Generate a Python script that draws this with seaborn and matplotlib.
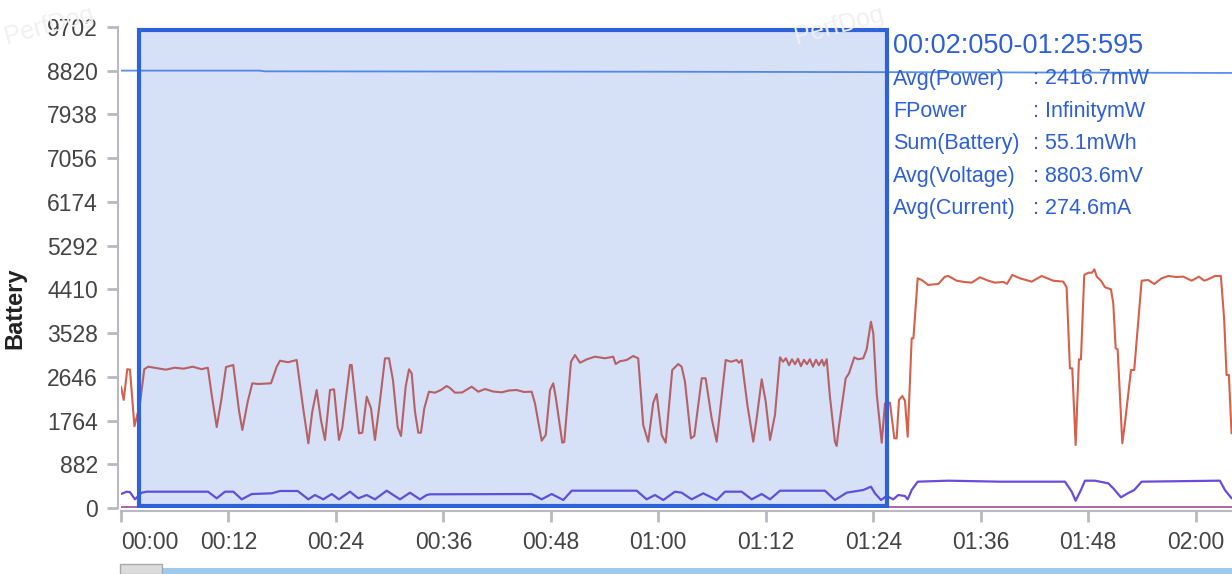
import numpy as np
import pandas as pd
import seaborn as sns
import matplotlib.pyplot as plt
from matplotlib.patches import Rectangle

# power (mW)
power_t = [0.0, 0.3, 0.7, 1.0, 1.5, 2.1, 2.6, 3.05, 4.0, 5.0, 6.0, 7.0, 8.0, 9.0, 9.7,
           10.13, 10.69, 11.17, 11.73, 12.54, 13.18, 13.55, 14.15, 14.66, 15.33, 16.75,
           17.39, 17.76, 18.65, 19.62, 20.36, 20.92, 21.36, 21.85, 22.33, 22.78, 23.34,
           23.79, 24.34, 24.71, 25.57, 25.76, 26.58, 26.95, 27.44, 27.92, 28.36, 28.84,
           29.48, 29.93, 30.37, 30.9, 31.27, 31.79, 32.16, 32.46, 32.83, 33.2, 33.5,
           33.87, 34.39, 35.06, 35.73, 36.37, 36.74, 37.3, 38.08, 39.16, 39.9, 40.65,
           41.54, 42.51, 43.33, 44.19, 45.0, 45.86, 46.23, 46.98, 47.43, 47.91, 48.27,
           48.54, 49.28, 49.5, 50.25, 50.7, 51.26, 52.04, 52.93, 54.05, 54.97, 55.24,
           55.72, 56.47, 57.2, 57.76, 58.32, 58.88, 59.44, 59.82, 60.38, 60.83, 61.56,
           62.23, 62.61, 62.98, 63.65, 64.02, 64.85, 65.29, 65.96, 66.52, 67.0, 67.53,
           68.12, 68.75, 69.01, 69.31, 69.98, 70.61, 70.99, 71.55, 72.0, 72.48, 73.03,
           73.59, 73.93, 74.26, 74.6, 74.93, 75.27, 75.6, 75.93, 76.27, 76.6, 76.93,
           77.27, 77.61, 77.94, 78.28, 78.5, 78.81, 79.17, 79.73, 79.92, 80.18, 80.93,
           81.3, 81.89, 82.3, 82.89, 83.27, 83.75, 84.01, 84.39, 84.95, 85.32, 85.87,
           86.36, 86.62, 86.88, 87.25, 87.55, 87.85, 88.3, 88.49, 88.97, 89.41, 90.15,
           90.67, 91.27, 92.01, 92.38, 93.33, 94.14, 95.0, 95.92, 96.85, 97.6, 98.53,
           98.94, 99.53, 100.39, 101.7, 102.81, 104.1, 105.22, 105.6, 105.97, 106.23,
           106.61, 106.98, 107.2, 107.57, 108.02, 108.43, 108.7, 108.97, 109.44, 109.89,
           110.55, 110.81, 111.08, 111.3, 111.82, 112.11, 112.79, 113.15, 113.98, 114.71,
           115.39, 116.21, 116.95, 117.81, 118.63, 119.56, 120.37, 120.96, 121.41, 122.16,
           122.83, 123.2, 123.46, 123.72, 124.02]
power_v = [2450, 2180, 2800, 2790, 1650, 2080, 2800, 2850, 2820, 2790, 2830, 2810, 2850, 2800, 2830,
           2279, 1634, 2144, 2844, 2884, 1962, 1573, 2144, 2515, 2501, 2515,
           2850, 2971, 2940, 2985, 1990, 1305, 1942, 2380, 1775, 1372, 2380,
           2394, 1372, 1614, 2884, 2884, 1506, 1519, 2245, 2010, 1372, 2043,
           3019, 3019, 2582, 1627, 1452, 2447, 2797, 2716, 1942, 1519, 1519,
           2010, 2346, 2326, 2380, 2461, 2420, 2326, 2330, 2447, 2346, 2400,
           2350, 2333, 2370, 2380, 2340, 2346, 2111, 1357, 1472, 2380, 2515,
           2245, 1317, 1330, 2951, 3086, 2931, 3000, 3052, 3020, 3052, 2904,
           2960, 2985, 3066, 3019, 1674, 1337, 2124, 2299, 1472, 1317, 2783,
           2904, 2850, 2548, 1405, 1452, 2616, 2616, 1809, 1337, 2111, 2985,
           2950, 2985, 2930, 2985, 2043, 1337, 1809, 2596, 2144, 1372, 1876,
           3039, 2950, 3020, 2880, 3000, 2900, 3010, 2860, 2990, 2900, 3000,
           2850, 2990, 2880, 2990, 2870, 3000, 2245, 1337, 1251, 1654, 2616,
           2716, 3039, 3000, 3019, 3200, 3757, 3523, 2313, 1317, 2111, 2124,
           1405, 1405, 2178, 2259, 2164, 1438, 3423, 3423, 4633, 4599, 4498,
           4510, 4518, 4666, 4680, 4585, 4560, 4545, 4653, 4585, 4545, 4560,
           4520, 4700, 4633, 4566, 4680, 4585, 4566, 4452, 2818, 2818,
           1271, 2999, 2999, 4700, 4746, 4746, 4814, 4666, 4585, 4452,
           4412, 4129, 3221, 3200, 1305, 1708, 2783, 2783, 4585, 4599,
           4518, 4633, 4680, 4660, 4666, 4585, 4666, 4585, 4613, 4680,
           4680, 3792, 2683, 2683, 1506]

# current (mA), purple line
current_t = [0.0, 0.64, 1.0, 1.56, 2.31, 2.87, 9.72, 10.69, 11.61, 12.54, 13.48, 14.6, 16.83,
             17.76, 19.73, 20.92, 21.66, 22.59, 23.53, 24.34, 25.57, 26.5, 27.44, 28.36,
             29.67, 31.16, 32.27, 33.39, 34.14, 34.51, 45.86, 46.98, 48.09, 49.39, 50.33,
             57.59, 58.7, 59.63, 60.56, 61.86, 62.61, 63.73, 65.02, 66.52, 67.45, 69.31,
             70.43, 71.55, 72.48, 73.59, 78.61, 79.73, 81.04, 82.89, 83.75, 84.2, 84.87,
             85.5, 86.24, 86.8, 87.55, 87.85, 88.3, 88.97, 92.38, 98.16, 105.42, 106.17,
             106.61, 107.2, 107.65, 108.77, 110.25, 110.81, 111.67, 112.42, 113.15, 113.98,
             122.72, 123.28, 124.03]
current_v = [282, 329, 320, 175, 309, 329, 329, 195, 329, 329, 175, 282, 296,
             343, 343, 175, 262, 175, 282, 175, 329, 195, 262, 175,
             349, 175, 309, 175, 262, 276, 282, 175, 282, 161, 349,
             349, 175, 262, 161, 329, 309, 175, 296, 161, 329, 329,
             175, 282, 175, 349, 349, 161, 309, 363, 430, 296, 161,
             242, 175, 262, 242, 175, 363, 531, 551, 531, 531, 329,
             147, 363, 551, 551, 498, 397, 215, 296, 363, 531,
             551, 363, 195]

# voltage (mV), thin blue line
voltage_t = [0.0, 15.5, 16.0, 60.0, 90.0, 124.1]
voltage_v = [8822, 8822, 8808, 8800, 8790, 8775]

# bottom series near zero
base_t = [0.0, 124.1]
base_v = [15, 15]

yticks = [882 * i for i in range(12)]
xticks = list(range(0, 121, 12))
xlabels = ['%02d:%02d' % (s // 60, s % 60) for s in xticks]

sel_start, sel_end = 2.05, 85.595
info_title = '00:02:050-01:25:595'
info_labels = ['Avg(Power)', 'FPower', 'Sum(Battery)', 'Avg(Voltage)', 'Avg(Current)']
info_values = ['2416.7mW', 'InfinitymW', '55.1mWh', '8803.6mV', '274.6mA']

sns.set_style('white')
plt.rcParams['font.family'] = ['Liberation Sans', 'DejaVu Sans']

W, H = 1232, 574
fig = plt.figure(figsize=(W / 100, H / 100), dpi=100)
ax = fig.add_axes([121 / W, 1 - 508 / H, 1 - 121 / W, (508 - 27) / H])

df_p = pd.DataFrame({'t': power_t, 'v': power_v})
df_c = pd.DataFrame({'t': current_t, 'v': current_v})
df_u = pd.DataFrame({'t': voltage_t, 'v': voltage_v})
df_b = pd.DataFrame({'t': base_t, 'v': base_v})

sns.lineplot(data=df_b, x='t', y='v', ax=ax, color='#a04b9b', lw=1.2, estimator=None)
sns.lineplot(data=df_u, x='t', y='v', ax=ax, color='#5a8ff0', lw=1.3, estimator=None)
sns.lineplot(data=df_c, x='t', y='v', ax=ax, color='#6a4bdc', lw=1.6, estimator=None)
sns.lineplot(data=df_p, x='t', y='v', ax=ax, color='#d6604a', lw=1.5, estimator=None)

# selection box
ax.axvspan(sel_start, sel_end, ymin=0.004, ymax=0.994,
           facecolor=(0.20, 0.40, 0.85, 0.2), edgecolor='#2f62d8', lw=3, zorder=5)

ax.set_xlim(0, 124.07)
ax.set_ylim(0, 9702)
ax.set_xticks(xticks)
ax.set_xticklabels(xlabels)
ax.set_yticks(yticks)
ax.set_xlabel('')
ax.set_ylabel('')

for s in ['top', 'right']:
    ax.spines[s].set_visible(False)
for s in ['left', 'bottom']:
    ax.spines[s].set_color('#b9b9c3')
    ax.spines[s].set_linewidth(1.5)
    ax.spines[s].set_position(('outward', 2.5))
ax.tick_params(axis='both', which='major', length=8, width=2, color='#b9b9c3',
               labelsize=16.5, labelcolor='#444444', pad=6)
ax.tick_params(axis='y', left=True)
ax.tick_params(axis='x', bottom=True)
ax.xaxis.get_major_ticks()[0].label1.set_horizontalalignment('left')

fig.text(15 / W, 1 - 308 / H, 'Battery', rotation=90, ha='center', va='center',
         fontsize=17, fontweight='bold', color='#222222')

# info block
blue = '#2d5fd8'
fig.text(893 / W, 1 - 46 / H, info_title, fontsize=19.5, color=blue, va='center')
for i, (lab, val) in enumerate(zip(info_labels, info_values)):
    yy = 1 - (79 + i * 32.4) / H
    fig.text(893 / W, yy, lab, fontsize=15.5, color=blue, va='center')
    fig.text(1033 / W, yy, ': ' + val, fontsize=15.5, color=blue, va='center')

# watermarks
for x0 in [2, 792]:
    fig.text(x0 / W, 1 - 26 / H, 'PerfDog', fontsize=18, color='#f0f0f0',
             rotation=15, ha='left', va='center', zorder=0)

# scroll bar at the bottom
fig.patches.append(Rectangle((162 / W, 0), 1 - 162 / W, 6 / H, transform=fig.transFigure,
                             facecolor='#9ccbee', edgecolor='none'))
fig.patches.append(Rectangle((120 / W, 0), 42 / W, 10 / H, transform=fig.transFigure,
                             facecolor='#dcdcdc', edgecolor='#a8a8a8', lw=1))

fig.savefig('out.png', dpi=100)
